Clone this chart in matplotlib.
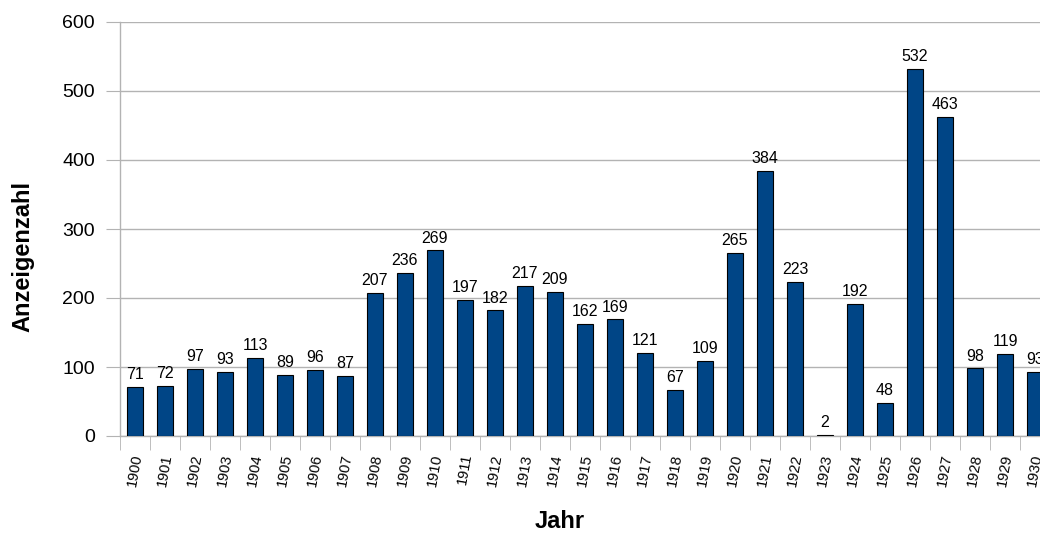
import numpy as np
import matplotlib
matplotlib.use("Agg")
import matplotlib.pyplot as plt

plt.rcParams['font.family'] = ['Liberation Sans', 'DejaVu Sans']

jahre = [str(j) for j in range(1900, 1931)]
anzeigen = [71, 72, 97, 93, 113, 89, 96, 87, 207, 236, 269, 197, 182, 217, 209,
            162, 169, 121, 67, 109, 265, 384, 223, 2, 192, 48, 532, 463, 98, 119, 93]

W, H = 1040, 535
fig = plt.figure(figsize=(W / 100, H / 100), dpi=100)
# plot area runs a little past the right edge of the image
ax = fig.add_axes([120 / W, 1 - 436 / H, 930 / W, 414 / H])

grau = '#b3b3b3'
x = np.arange(len(jahre))
ax.bar(x, anzeigen, width=0.53, color='#004586', edgecolor='black',
       linewidth=0.8, zorder=3)

for xi, v in zip(x, anzeigen):
    ax.text(xi, v + 7, str(v), ha='center', va='bottom', fontsize=11.5, zorder=4)

ax.set_xlim(-0.5, len(jahre) - 0.5)
ax.set_ylim(0, 600)
ax.set_yticks(range(0, 601, 100))
ax.yaxis.grid(True, color=grau, linewidth=1, zorder=0)
ax.tick_params(axis='y', length=10, color=grau, labelsize=14, pad=8)

ax.set_xticks(x)
ax.set_xticklabels(jahre, rotation=80, fontsize=10.5, ha='center', va='top')
ax.tick_params(axis='x', which='major', length=0, pad=12)
ax.set_xticks(np.arange(-0.5, len(jahre)), minor=True)
ax.tick_params(axis='x', which='minor', length=10, color=grau)

for s in ['top', 'right']:
    ax.spines[s].set_visible(False)
for s in ['left', 'bottom']:
    ax.spines[s].set_color(grau)
    ax.spines[s].set_linewidth(1)

fig.text(23 / W, 1 - 257 / H, 'Anzeigenzahl', rotation=90, ha='center',
         va='center', fontsize=17, fontweight='bold')
fig.text(560 / W, 1 - 521 / H, 'Jahr', ha='center', va='center',
         fontsize=17, fontweight='bold')

fig.savefig('out.png', dpi=100)
